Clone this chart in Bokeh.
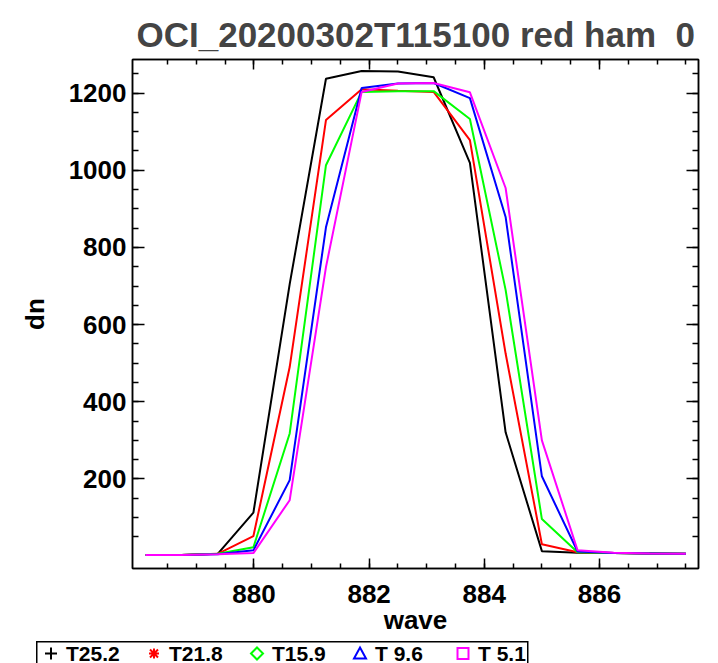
from bokeh.plotting import figure
from bokeh.layouts import column
from bokeh.models import (Range1d, LinearAxis, FixedTicker, CustomJSTickFormatter,
                          Div)
from bokeh.embed import file_html
from bokeh.resources import INLINE

# ---- data ----
wave = [878.12, 878.74, 879.37, 879.99, 880.62, 881.25, 881.87, 882.50,
        883.12, 883.75, 884.37, 885.00, 885.62, 886.25, 886.87, 887.50]
t25_2 = [3, 3, 6, 113, 705, 1237, 1257, 1256, 1241, 1019, 321, 13, 9, 8, 7, 6]
t21_8 = [3, 3, 6, 52, 490, 1130, 1210, 1206, 1203, 1078, 525, 31, 10, 8, 7, 6]
t15_9 = [3, 3, 6, 23, 318, 1013, 1203, 1205, 1205, 1133, 690, 96, 10, 8, 7, 6]
t9_6 = [3, 3, 5, 15, 197, 852, 1213, 1225, 1226, 1187, 879, 207, 12, 8, 7, 6]
t5_1 = [3, 3, 5, 8, 145, 749, 1203, 1225, 1226, 1202, 954, 300, 15, 9, 7, 6]
series = [t25_2, t21_8, t15_9, t9_6, t5_1]
labels = ["T25.2", "T21.8", "T15.9", "T 9.6", "T 5.1"]
colors = ["black", "red", "#00ff00", "blue", "magenta"]
markers = ["cross", "asterisk", "diamond", "triangle", "square"]

x_major = [880, 882, 884, 886]
x_minor = [878.5, 879, 879.5, 880, 880.5, 881, 881.5, 882, 882.5, 883, 883.5,
           884, 884.5, 885, 885.5, 886, 886.5, 887, 887.5]
y_major = [200, 400, 600, 800, 1000, 1200]
y_minor = [50, 100, 150, 200, 250, 300, 350, 400, 450, 500, 550, 600, 650,
           700, 750, 800, 850, 900, 950, 1000, 1050, 1100, 1150, 1200, 1250]

title = "OCI_20200302T115100 red ham \u00a00"
FONT = "Liberation Sans"

p = figure(width=718, height=641,
           min_border_left=132, min_border_right=20,
           min_border_top=59, min_border_bottom=73,
           x_range=Range1d(877.89, 887.72), y_range=Range1d(-32, 1287),
           output_backend="svg", toolbar_location=None,
           background_fill_color="white", border_fill_color="white")
p.grid.visible = False
p.outline_line_color = "black"
p.outline_line_width = 1.5

p.title.text = title
p.title.text_font = FONT
p.title.text_font_style = "bold"
p.title.text_font_size = "35px"
p.title.align = "left"
p.title.offset = 4
p.title.standoff = 12

xt = FixedTicker(ticks=x_major, minor_ticks=x_minor)
yt = FixedTicker(ticks=y_major, minor_ticks=y_minor)

def style(ax, ticker, maj, mnr, labels_on):
    ax.ticker = ticker
    ax.axis_line_color = "black"
    ax.axis_line_width = 1.5
    ax.major_tick_line_color = "black"
    ax.major_tick_line_width = 1.5
    ax.minor_tick_line_color = "black"
    ax.minor_tick_line_width = 1.5
    ax.major_tick_in = maj
    ax.major_tick_out = 0
    ax.minor_tick_in = mnr
    ax.minor_tick_out = 0
    if labels_on:
        ax.major_label_text_font = FONT
        ax.major_label_text_font_style = "bold"
        ax.major_label_text_font_size = "26px"
        ax.major_label_text_color = "black"
        ax.axis_label_text_font = FONT
        ax.axis_label_text_font_style = "bold"
        ax.axis_label_text_font_size = "26px"
        ax.axis_label_text_color = "black"
    else:
        ax.formatter = CustomJSTickFormatter(code="return ''")
        ax.major_label_standoff = 0

style(p.xaxis[0], xt, 10, 5, True)
p.xaxis[0].axis_label = "wave"
p.xaxis[0].major_label_standoff = 16
p.xaxis[0].axis_label_standoff = -1

style(p.yaxis[0], yt, 12, 6, True)
p.yaxis[0].axis_label = "dn"
p.yaxis[0].major_label_standoff = 6
p.yaxis[0].axis_label_standoff = 16

top = LinearAxis()
style(top, xt, 10, 5, False)
p.add_layout(top, "above")
right = LinearAxis()
style(right, yt, 12, 6, False)
p.add_layout(right, "right")

for ys, col in zip(series, colors):
    p.line(wave, ys, line_color=col, line_width=2)

# ---- legend strip below the plot, drawn as a small inline SVG ----
def marker_svg(kind, cx, cy, col):
    s = 'fill="none" stroke="%s" stroke-width="2"' % col
    if kind == "cross":
        return '<path d="M%g %gH%gM%g %gV%g" %s/>' % (cx - 6, cy, cx + 6, cx, cy - 6, cy + 6, s)
    if kind == "asterisk":
        return ('<path d="M%g %gH%gM%g %gV%gM%g %gL%g %gM%g %gL%g %g" %s/>'
                % (cx - 5, cy, cx + 5, cx, cy - 5, cy + 5,
                   cx - 4, cy - 4, cx + 4, cy + 4, cx - 4, cy + 4, cx + 4, cy - 4, s))
    if kind == "diamond":
        return '<path d="M%g %gL%g %gL%g %gL%g %gZ" %s/>' % (
            cx, cy - 6, cx + 6, cy, cx, cy + 6, cx - 6, cy, s)
    if kind == "triangle":
        return '<path d="M%g %gL%g %gL%g %gZ" %s/>' % (
            cx, cy - 6, cx + 6, cy + 5, cx - 6, cy + 5, s)
    return '<rect x="%g" y="%g" width="11" height="11" %s/>' % (cx - 5.5, cy - 5.5, s)

box_left, box_right, pitch = 36, 527, 103
parts = ['<svg xmlns="http://www.w3.org/2000/svg" width="718" height="22" '
         'style="display:block">',
         '<rect x="%g" y="0.75" width="%g" height="30" fill="white" '
         'stroke="black" stroke-width="1.5"/>' % (box_left + 0.75, box_right - box_left)]
for i, (lab, col, mk) in enumerate(zip(labels, colors, markers)):
    gx = box_left + 15 + pitch * i
    parts.append(marker_svg(mk, gx, 12.5, col))
    parts.append('<text x="%g" y="20" font-family="Liberation Sans" '
                 'font-weight="bold" font-size="21" fill="black">%s</text>'
                 % (gx + 15, lab))
parts.append('</svg>')
legend_div = Div(text="".join(parts), width=718, height=22,
                 styles={"margin": "0", "padding": "0", "overflow": "hidden"})

layout = column(p, legend_div, spacing=0)
open("out.html", "w").write(file_html(layout, INLINE))
